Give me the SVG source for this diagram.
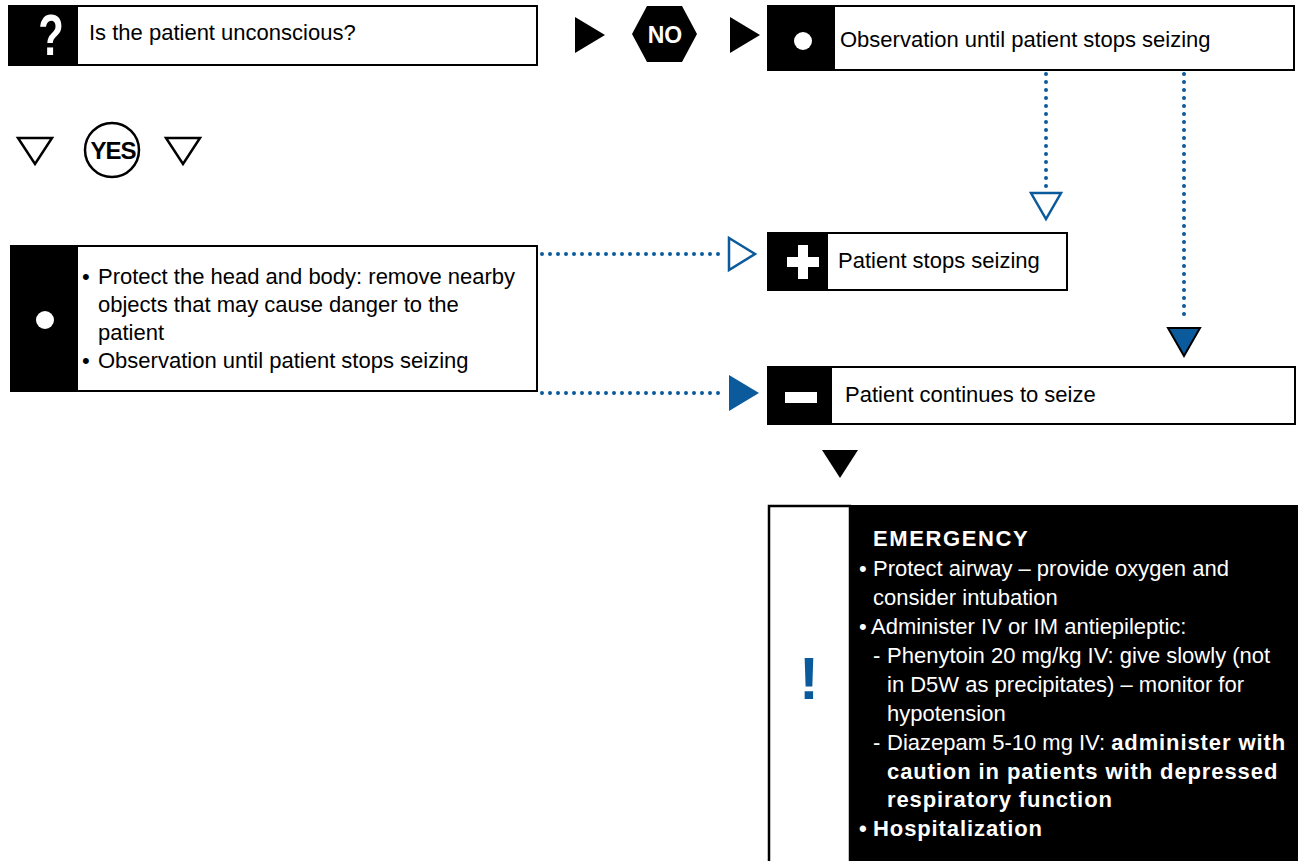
<svg xmlns="http://www.w3.org/2000/svg" width="1298" height="861" viewBox="0 0 1298 861">
  <style>
    text { font-family: "Liberation Sans", "Lato", sans-serif; font-size: 22px; fill: #000; }
    .box { fill: #fff; stroke: #000; stroke-width: 2; }
    .cell { fill: #000; }
    .wt { fill: #fff; }
    .b { font-weight: bold; letter-spacing: 0.9px; }
    .dots { fill: none; stroke: #0a5a9c; stroke-width: 4; stroke-linecap: round; stroke-dasharray: 0 8; }
    .tri { fill: #000; }
    .open { fill: #fff; stroke: #000; stroke-width: 2.5; }
    .bopen { fill: #fff; stroke: #0a5a9c; stroke-width: 2.5; }
    .bfill { fill: #0a5a9c; stroke: #000; stroke-width: 2; }
  </style>

  <!-- question -->
  <g id="q-unconscious">
    <rect class="box" x="9" y="6" width="528" height="59"/>
    <rect class="cell" x="8" y="5" width="70" height="61"/>
    <text class="wt" x="0" y="0" text-anchor="middle" transform="translate(51,55) scale(0.72,1)" style="font-size:58px;font-weight:bold">?</text>
    <text x="89" y="40">Is the patient unconscious?</text>
  </g>

  <!-- NO branch -->
  <g id="no-label">
    <polygon class="tri" points="575,17 605,35 575,53"/>
    <polygon class="tri" points="632,34 647,6 682,6 697,34 682,62 647,62"/>
    <text class="wt" x="665" y="43" text-anchor="middle" style="font-size:23px;font-weight:bold">NO</text>
    <polygon class="tri" points="730,17 760,35 730,53"/>
  </g>

  <g id="observe">
    <rect class="box" x="768" y="6" width="526" height="64"/>
    <rect class="cell" x="767" y="5" width="68" height="66"/>
    <circle class="wt" cx="803" cy="41" r="9"/>
    <text x="840" y="47">Observation until patient stops seizing</text>
  </g>

  <!-- YES branch -->
  <g id="yes-label">
    <polygon class="open" points="18,138 52,138 35,164"/>
    <circle cx="112" cy="150" r="27" fill="#fff" stroke="#000" stroke-width="2.5"/>
    <text x="113" y="159" text-anchor="middle" style="font-size:24px;font-weight:bold;letter-spacing:-1px">YES</text>
    <polygon class="open" points="166,138 200,138 183,164"/>
  </g>

  <g id="protect">
    <rect class="box" x="11" y="246" width="526" height="145"/>
    <rect class="cell" x="10" y="245" width="68" height="147"/>
    <circle class="wt" cx="45" cy="320" r="9"/>
    <text x="82" y="284">•</text>
    <text x="98" y="284">Protect the head and body: remove nearby</text>
    <text x="98" y="312">objects that may cause danger to the</text>
    <text x="98" y="340">patient</text>
    <text x="82" y="368">•</text>
    <text x="98" y="368">Observation until patient stops seizing</text>
  </g>

  <g id="stops">
    <rect class="box" x="768" y="233" width="299" height="57"/>
    <rect class="cell" x="767" y="232" width="61" height="59"/>
    <rect class="wt" x="787" y="257" width="32" height="10"/>
    <rect class="wt" x="798" y="245" width="10" height="34"/>
    <text x="838" y="268">Patient stops seizing</text>
  </g>

  <g id="continues">
    <rect class="box" x="768" y="367" width="527" height="57"/>
    <rect class="cell" x="767" y="366" width="65" height="59"/>
    <rect class="wt" x="785" y="392" width="32" height="11"/>
    <text x="845" y="402">Patient continues to seize</text>
  </g>

  <g id="emergency">
    <rect x="769" y="506" width="81" height="360" fill="#fff" stroke="#000" stroke-width="2.5"/>
    <rect class="cell" x="850" y="505" width="448" height="356"/>
    <text x="809" y="699" text-anchor="middle" style="font-size:60px;font-weight:bold;fill:#0a5a9c">!</text>
    <text class="wt b" x="873" y="546" style="letter-spacing:1.6px">EMERGENCY</text>
    <text class="wt" x="859" y="576">•</text>
    <text class="wt" x="873" y="576">Protect airway – provide oxygen and</text>
    <text class="wt" x="873" y="605">consider intubation</text>
    <text class="wt" x="859" y="634">•</text>
    <text class="wt" x="871" y="634">Administer IV or IM antiepileptic:</text>
    <text class="wt" x="873" y="663">-</text>
    <text class="wt" x="887" y="663">Phenytoin 20 mg/kg IV: give slowly (not</text>
    <text class="wt" x="887" y="692">in D5W as precipitates) – monitor for</text>
    <text class="wt" x="887" y="721">hypotension</text>
    <text class="wt" x="873" y="750">-</text>
    <text class="wt" x="887" y="750">Diazepam 5-10 mg IV: <tspan class="b">administer with</tspan></text>
    <text class="wt b" x="887" y="779">caution in patients with depressed</text>
    <text class="wt b" x="887" y="807">respiratory function</text>
    <text class="wt" x="859" y="836" style="font-weight:bold">•</text>
    <text class="wt b" x="873" y="836">Hospitalization</text>
  </g>

  <!-- connectors -->
  <g id="connectors">
    <line class="dots" x1="1046" y1="74" x2="1046" y2="188"/>
    <polygon class="bopen" points="1031,193 1061,193 1046,219"/>
    <line class="dots" x1="1184" y1="74" x2="1184" y2="322"/>
    <polygon class="bfill" points="1168,328 1200,328 1184,356"/>
    <line class="dots" x1="542" y1="254" x2="722" y2="254"/>
    <polygon class="bopen" points="729,238 755,254 729,270"/>
    <line class="dots" x1="542" y1="393" x2="722" y2="393"/>
    <polygon fill="#0a5a9c" points="729,375 759,393 729,411"/>
    <polygon class="tri" points="822,450 858,450 840,478"/>
  </g>
</svg>
